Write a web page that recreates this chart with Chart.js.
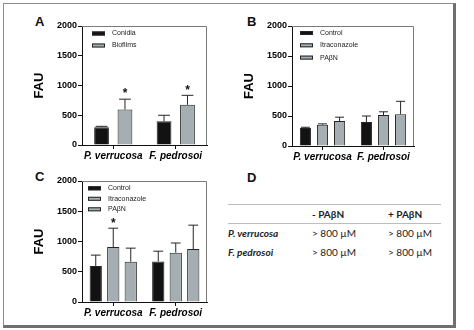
<!DOCTYPE html>
<html>
<head>
<meta charset="utf-8">
<script src="https://cdn.jsdelivr.net/npm/chart.js@4.4.0/dist/chart.umd.min.js"></script>
<style>
body { margin: 0; background: #fff; width: 474px; height: 330px; position: relative; overflow: hidden; font-family: "Liberation Sans", Arial, sans-serif; }
.frame { position: absolute; left: 3px; top: 3px; width: 449px; height: 321px; border: 1px solid #8c8c8c; border-right: 3px solid #6f6f6f; border-bottom: 3px solid #6f6f6f; }
.panel { position: absolute; }
.letter { position: absolute; font-weight: bold; font-size: 13px; line-height: 13px; color: #111; }
#micTable { position: absolute; left: 228px; top: 204px; width: 213px; border-collapse: collapse; font-family: Lato, "Open Sans", sans-serif; font-size: 10px; color: #222; }
#micTable th, #micTable td { padding: 0; text-align: left; white-space: nowrap; }
#micTable thead tr { height: 19px; border-top: 1px solid #bdbdbd; border-bottom: 1px solid #bdbdbd; }
#micTable tbody tr { height: 19px; }
#micTable td.sp { font-weight: bold; font-style: italic; width: 84px; }
#micTable .c2 { width: 76px; }
</style>
</head>
<body>
<div class="frame"></div>

<div class="letter" style="left:35px;top:15px">A</div>
<div class="letter" style="left:247px;top:15px">B</div>
<div class="letter" style="left:35px;top:170px">C</div>
<div class="letter" style="left:247px;top:171px">D</div>

<canvas id="chartA" class="panel" style="left:28px;top:14px" width="184" height="152"></canvas>
<canvas id="chartB" class="panel" style="left:238px;top:14px" width="181" height="153"></canvas>
<canvas id="chartC" class="panel" style="left:28px;top:169px" width="184" height="154"></canvas>

<table id="micTable">
  <thead><tr id="micHead"></tr></thead>
  <tbody id="micBody"></tbody>
</table>

<script>
// data
const species = ['P. verrucosa', 'F. pedrosoi'];
const fauMax = 2000;
const fauStep = 500;

// A: conidia vs biofilms
const conidiaFAU = [300, 400];
const conidiaSD = [14, 100];
const biofilmsFAU = [595, 675];
const biofilmsSD = [175, 160];
const biofilmsStar = [true, true];

// B
const controlB = [300, 400];
const controlBSD = [12, 100];
const itraB = [355, 515];
const itraBSD = [14, 55];
const pabnB = [415, 530];
const pabnBSD = [65, 215];

// C
const controlC = [595, 670];
const controlCSD = [180, 170];
const itraC = [910, 815];
const itraCSD = [310, 160];
const itraCStar = [true, false];
const pabnC = [665, 875];
const pabnCSD = [225, 395];

// D: table
const tableHeader = ['', '- PAβN', '+ PAβN'];
const tableRows = [
    ['P. verrucosa', '> 800 µM', '> 800 µM'],
    ['F. pedrosoi', '> 800 µM', '> 800 µM'],
];

const black = '#121212';
const gray = '#a5afb3';
const edge = '#252525';

// error bars + asterisks
const errorBars = {
    id: 'errorBars',
    afterDatasetsDraw(chart) {
        const ctx = chart.ctx;
        const y = chart.scales.y;
        ctx.save();
        ctx.strokeStyle = edge;
        ctx.lineWidth = 1;
        chart.data.datasets.forEach((ds, i) => {
            const meta = chart.getDatasetMeta(i);
            meta.data.forEach((bar, j) => {
                const top = y.getPixelForValue(ds.data[j] + ds.sd[j]);
                const cap = bar.width * 0.4;
                ctx.beginPath();
                ctx.moveTo(bar.x, bar.y);
                ctx.lineTo(bar.x, top);
                ctx.moveTo(bar.x - cap, top);
                ctx.lineTo(bar.x + cap, top);
                ctx.stroke();
                if (ds.star && ds.star[j]) {
                    ctx.fillStyle = '#111';
                    ctx.font = 'bold 12px "Liberation Sans", Arial';
                    ctx.textAlign = 'center';
                    ctx.textBaseline = 'middle';
                    ctx.fillText('*', bar.x, top - 5);
                }
            });
        });
        ctx.restore();
    }
};

// top/right frame and legend inside the plot
const boxAndLegend = {
    id: 'boxAndLegend',
    afterDraw(chart, args, opts) {
        const ctx = chart.ctx;
        const a = chart.chartArea;
        ctx.save();
        ctx.strokeStyle = '#7a7a7a';
        ctx.lineWidth = 1;
        ctx.beginPath();
        ctx.moveTo(a.left, a.top + 0.5);
        ctx.lineTo(a.right - 0.5, a.top + 0.5);
        ctx.lineTo(a.right - 0.5, a.bottom);
        ctx.stroke();

        ctx.font = '7px "Liberation Sans", Arial';
        ctx.textBaseline = 'middle';
        ctx.textAlign = 'left';
        chart.data.datasets.forEach((ds, i) => {
            const cy = a.top + opts.y + i * opts.gap;
            ctx.fillStyle = ds.backgroundColor;
            ctx.fillRect(a.left + opts.x, cy - 2, 13, 4);
            ctx.strokeStyle = edge;
            ctx.strokeRect(a.left + opts.x + 0.5, cy - 1.5, 12, 3);
            ctx.fillStyle = '#222';
            ctx.fillText(ds.label, a.left + opts.x + 20, cy);
        });
        ctx.restore();
    }
};

function makeChart(id, datasets, catPct, barPct, legendPos, padRight) {
    return new Chart(document.getElementById(id), {
        type: 'bar',
        data: {
            labels: species,
            datasets: datasets.map(d => ({
                label: d.label,
                data: d.data,
                sd: d.sd,
                star: d.star,
                backgroundColor: d.color,
                borderColor: edge,
                borderWidth: 1,
                categoryPercentage: catPct,
                barPercentage: barPct,
            })),
        },
        options: {
            responsive: false,
            animation: false,
            layout: { padding: { left: 0, right: padRight, top: 12, bottom: 0 } },
            scales: {
                x: {
                    afterFit: s => { s.height = 21; },
                    grid: { offset: false, drawOnChartArea: false, tickLength: 4, color: '#111' },
                    border: { color: '#111', width: 1 },
                    ticks: {
                        color: '#000', padding: 1, maxRotation: 0, minRotation: 0, autoSkip: false,
                        font: { family: '"Liberation Sans", Arial', size: 10, weight: 'bold', style: 'italic' },
                    },
                },
                y: {
                    min: 0,
                    max: fauMax,
                    afterFit: s => { s.width = 54; },
                    grid: { drawOnChartArea: false, tickLength: 4, color: '#111' },
                    border: { color: '#111', width: 1 },
                    ticks: {
                        stepSize: fauStep, color: '#000', padding: 1,
                        callback: v => String(v),
                        font: { family: '"Liberation Sans", Arial', size: 9, weight: 'bold' },
                    },
                    title: { display: true, text: 'FAU', color: '#000', padding: { top: 4, bottom: 0 }, font: { family: '"Liberation Sans", Arial', size: 13, weight: 'bold' } },
                },
            },
            plugins: {
                legend: { display: false },
                tooltip: { enabled: false },
                boxAndLegend: legendPos,
            },
        },
        plugins: [errorBars, boxAndLegend],
    });
}

makeChart('chartA', [
    { label: 'Conidia', data: conidiaFAU, sd: conidiaSD, color: black },
    { label: 'Biofilms', data: biofilmsFAU, sd: biofilmsSD, star: biofilmsStar, color: gray },
], 0.75, 0.63, { x: 10, y: 7.5, gap: 12 }, 5);

makeChart('chartB', [
    { label: 'Control', data: controlB, sd: controlBSD, color: black },
    { label: 'Itraconazole', data: itraB, sd: itraBSD, color: gray },
    { label: 'PAβN', data: pabnB, sd: pabnBSD, color: gray },
], 0.84, 0.65, { x: 8, y: 7, gap: 12.3 }, 5);

makeChart('chartC', [
    { label: 'Control', data: controlC, sd: controlCSD, color: black },
    { label: 'Itraconazole', data: itraC, sd: itraCSD, star: itraCStar, color: gray },
    { label: 'PAβN', data: pabnC, sd: pabnCSD, color: gray },
], 0.84, 0.7, { x: 6, y: 7.3, gap: 10.5 }, 5);

// table D
const head = document.getElementById('micHead');
tableHeader.forEach((h, i) => {
    const th = document.createElement('th');
    th.textContent = h;
    if (i === 1) th.className = 'c2';
    head.appendChild(th);
});
const body = document.getElementById('micBody');
tableRows.forEach(row => {
    const tr = document.createElement('tr');
    row.forEach((v, i) => {
        const td = document.createElement('td');
        td.textContent = v;
        if (i === 0) td.className = 'sp';
        tr.appendChild(td);
    });
    body.appendChild(tr);
});
</script>
</body>
</html>
